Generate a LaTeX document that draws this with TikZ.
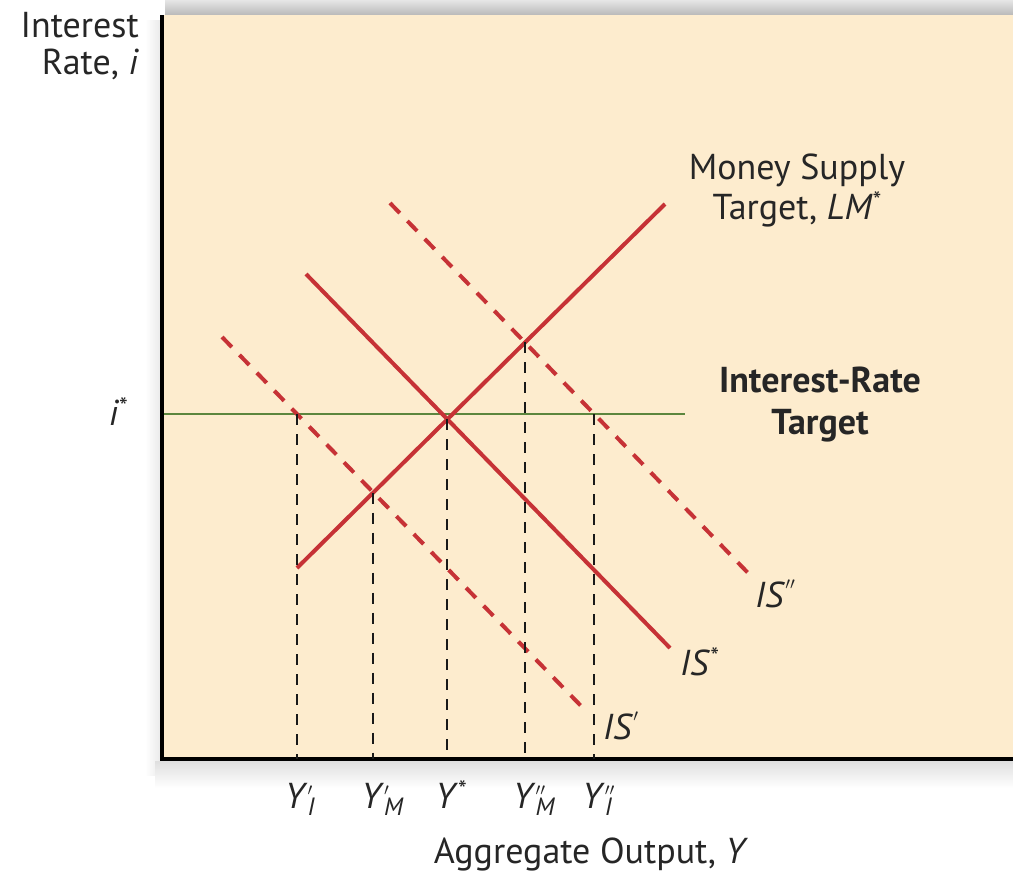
\documentclass[tikz,border=0pt]{standalone}
\usepackage{fontspec}
\setmainfont{PT Sans}
\usetikzlibrary{positioning,calc,intersections}

\definecolor{panel}{RGB}{253,236,206}
\definecolor{curvered}{RGB}{198,50,54}
\definecolor{targetgreen}{RGB}{92,134,62}
\newcommand{\subsize}{\fontsize{25}{25}\selectfont}
\newcommand{\ylab}[2]{\textit{Y}\rlap{\subsize\raisebox{0.25ex}{${}#1$}}{\subsize\raisebox{-0.6ex}{\itshape #2}}}

\begin{document}
\begin{tikzpicture}[x=1pt, y=-1pt,
  every node/.style={font=\fontsize{36}{40}\selectfont, inner sep=0pt, text=black!85},
  curve/.style={draw=curvered, line width=4pt},
  shifted/.style={curve, dash pattern=on 14pt off 11pt},
  drop/.style={draw=black!90, line width=2.2pt, dash pattern=on 11pt off 9pt},
  ylabel/.style={anchor=base west, xshift=-12pt}]
  \useasboundingbox (0,0) rectangle (1013,884);
  % panel with its soft edges
  \shade[top color=gray!20, bottom color=gray!55] (165,0) rectangle (1013,15);
  \shade[left color=white, right color=gray!18] (145,20) rectangle (162,775);
  \shade[top color=gray!25, bottom color=white] (155,761) rectangle (1013,788);
  \fill[panel] (162,15) rectangle (1013,759);
  % axes
  \coordinate (top) at (162,15);
  \coordinate (o) at (162,759);
  \coordinate (right) at (1013,759);
  \coordinate (lab) at (0,808);
  \draw[line width=4pt] (top) |- (right);
  % interest-rate target
  \coordinate (gs) at (164,414);
  \coordinate (ge) at (685,414);
  \draw[draw=targetgreen, line width=2pt] (gs) -- (ge);
  % curves
  \coordinate (lma) at (297,568); \coordinate (lmb) at (665,204);
  \coordinate (isa) at (306,274); \coordinate (isb) at (670,648);
  \coordinate (isla) at (222,337); \coordinate (islb) at (585,710);
  \coordinate (isha) at (390,203); \coordinate (ishb) at (750,575);
  \draw[shifted, name path=isl] (isla) -- (islb);
  \draw[shifted, name path=ish] (isha) -- (ishb);
  \draw[curve, name path=is] (isa) -- (isb);
  \draw[curve, name path=lm] (lma) -- (lmb);
  \path[name path=tgt] (gs) -- (ge);
  \path[name intersections={of=lm and is, by=E}];
  \path[name intersections={of=lm and isl, by=B}];
  \path[name intersections={of=lm and ish, by=D}];
  \path[name intersections={of=tgt and isl, by=A}];
  \path[name intersections={of=tgt and ish, by=C}];
  % drops to the output axis
  \draw[drop] (A) -- (A |- o);
  \draw[drop] (B) -- (B |- o);
  \draw[drop] (E) -- (E |- o);
  \draw[drop] (D) -- (D |- o);
  \draw[drop] (C) -- (C |- o);
  % labels
  \node[ylabel] (yIone) at (A |- lab) {\ylab{'}{I}};
  \node[ylabel] (yMone) at (B |- lab) {\ylab{'}{M}};
  \node[ylabel] (ystar) at (E |- lab) {\textit{Y}\raisebox{0.55ex}{\subsize *}};
  \node[ylabel] (yMtwo) at (D |- lab) {\ylab{''}{M}};
  \node[ylabel] (yItwo) at (C |- lab) {\ylab{''}{I}};
  \node[anchor=base] (xname) at (591,863) {Aggregate Output, \textit{Y}};
  \node[anchor=north east, align=right, font=\fontsize{36}{37}\selectfont] (yname) at (139,12) {Interest\\Rate, \textit{i}};
  \node[anchor=east] (istar) at (128,412) {\textit{i}\raisebox{0.55ex}{\subsize *}};
  \node[align=center] (lmname) at (797,190) {Money Supply\\Target, \textit{LM}\raisebox{0.55ex}{\subsize *}};
  \node[align=center, font=\fontsize{36}{42}\selectfont\bfseries] (tgtname) at (820,405) {Interest-Rate\\Target};
  \node[anchor=west] (ishname) at (755,594) {\textit{IS}\raisebox{0.5ex}{\subsize${}''$}};
  \node[anchor=west] (isname) at (680,662) {\textit{IS}\raisebox{0.55ex}{\subsize *}};
  \node[anchor=west] (islname) at (603,726) {\textit{IS}\raisebox{0.5ex}{\subsize${}'$}};
\end{tikzpicture}
\end{document}
